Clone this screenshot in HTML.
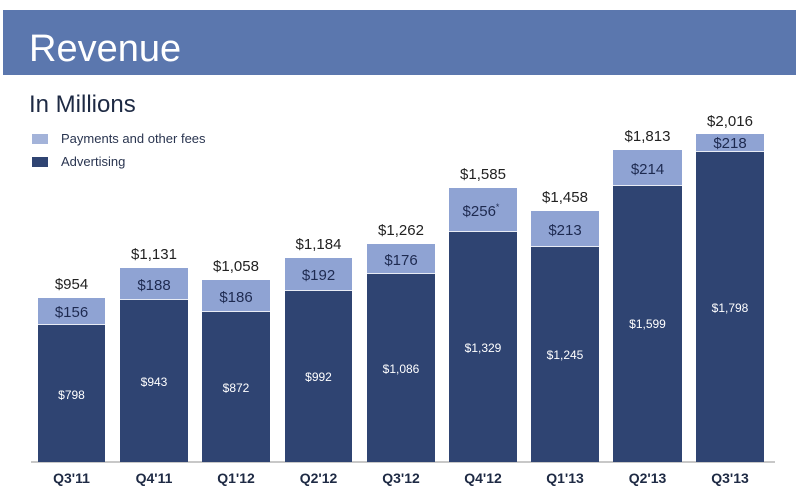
<!DOCTYPE html>
<html><head><meta charset="utf-8"><style>
body{margin:0;width:800px;height:497px;background:#fff;overflow:hidden;font-family:"Liberation Sans",sans-serif}
</style></head><body>
<svg width="800" height="497" xmlns="http://www.w3.org/2000/svg" font-family="Liberation Sans, sans-serif">
<rect x="3" y="10" width="793" height="65" fill="#5b77ae"/>
<text x="29" y="61" font-size="38" fill="#fff">Revenue</text>
<text x="29" y="112" font-size="24" fill="#1e2a44">In Millions</text>
<rect x="32" y="134" width="16" height="10" fill="#a3b3d9"/>
<text x="61" y="143" font-size="13" fill="#2a3550">Payments and other fees</text>
<rect x="32" y="157" width="16" height="10" fill="#2f4472"/>
<text x="61" y="166" font-size="13" fill="#2a3550">Advertising</text>
<line x1="31" y1="462" x2="775" y2="462" stroke="#c8c8c8" stroke-width="2"/>
<g font-size="15" text-anchor="middle">
<!-- bars: x, top, split, total, pay, adv, label -->
<g>
<rect x="38" y="298" width="67" height="164" fill="#8fa3d3"/><rect x="38" y="325" width="67" height="137" fill="#2f4472"/><line x1="38" y1="324.5" x2="105" y2="324.5" stroke="#e8ecf5"/>
<text x="71.5" y="289" fill="#222">$954</text><text x="71.5" y="317" fill="#1e2a50">$156</text><text x="71.5" y="399" fill="#fff" font-size="12">$798</text><text x="71.5" y="483" font-weight="bold" fill="#1e2a44" font-size="14">Q3'11</text>
</g>
<g>
<rect x="120" y="268" width="68" height="194" fill="#8fa3d3"/><rect x="120" y="300" width="68" height="162" fill="#2f4472"/><line x1="120" y1="299.5" x2="188" y2="299.5" stroke="#e8ecf5"/>
<text x="154" y="259" fill="#222">$1,131</text><text x="154" y="290" fill="#1e2a50">$188</text><text x="154" y="386" fill="#fff" font-size="12">$943</text><text x="154" y="483" font-weight="bold" fill="#1e2a44" font-size="14">Q4'11</text>
</g>
<g>
<rect x="202" y="280" width="68" height="182" fill="#8fa3d3"/><rect x="202" y="312" width="68" height="150" fill="#2f4472"/><line x1="202" y1="311.5" x2="270" y2="311.5" stroke="#e8ecf5"/>
<text x="236" y="271" fill="#222">$1,058</text><text x="236" y="302" fill="#1e2a50">$186</text><text x="236" y="392" fill="#fff" font-size="12">$872</text><text x="236" y="483" font-weight="bold" fill="#1e2a44" font-size="14">Q1'12</text>
</g>
<g>
<rect x="285" y="258" width="67" height="204" fill="#8fa3d3"/><rect x="285" y="291" width="67" height="171" fill="#2f4472"/><line x1="285" y1="290.5" x2="352" y2="290.5" stroke="#e8ecf5"/>
<text x="318.5" y="249" fill="#222">$1,184</text><text x="318.5" y="280" fill="#1e2a50">$192</text><text x="318.5" y="381" fill="#fff" font-size="12">$992</text><text x="318.5" y="483" font-weight="bold" fill="#1e2a44" font-size="14">Q2'12</text>
</g>
<g>
<rect x="367" y="244" width="68" height="218" fill="#8fa3d3"/><rect x="367" y="274" width="68" height="188" fill="#2f4472"/><line x1="367" y1="273.5" x2="435" y2="273.5" stroke="#e8ecf5"/>
<text x="401" y="235" fill="#222">$1,262</text><text x="401" y="265" fill="#1e2a50">$176</text><text x="401" y="373" fill="#fff" font-size="12">$1,086</text><text x="401" y="483" font-weight="bold" fill="#1e2a44" font-size="14">Q3'12</text>
</g>
<g>
<rect x="449" y="188" width="68" height="274" fill="#8fa3d3"/><rect x="449" y="232" width="68" height="230" fill="#2f4472"/><line x1="449" y1="231.5" x2="517" y2="231.5" stroke="#e8ecf5"/>
<text x="483" y="179" fill="#222">$1,585</text><text x="481" y="216" fill="#1e2a50">$256<tspan font-size="9" dy="-6">*</tspan></text><text x="483" y="352" fill="#fff" font-size="12">$1,329</text><text x="483" y="483" font-weight="bold" fill="#1e2a44" font-size="14">Q4'12</text>
</g>
<g>
<rect x="531" y="211" width="68" height="251" fill="#8fa3d3"/><rect x="531" y="247" width="68" height="215" fill="#2f4472"/><line x1="531" y1="246.5" x2="599" y2="246.5" stroke="#e8ecf5"/>
<text x="565" y="202" fill="#222">$1,458</text><text x="565" y="235" fill="#1e2a50">$213</text><text x="565" y="359" fill="#fff" font-size="12">$1,245</text><text x="565" y="483" font-weight="bold" fill="#1e2a44" font-size="14">Q1'13</text>
</g>
<g>
<rect x="613" y="150" width="69" height="312" fill="#8fa3d3"/><rect x="613" y="186" width="69" height="276" fill="#2f4472"/><line x1="613" y1="185.5" x2="682" y2="185.5" stroke="#e8ecf5"/>
<text x="647.5" y="141" fill="#222">$1,813</text><text x="647.5" y="174" fill="#1e2a50">$214</text><text x="647.5" y="328" fill="#fff" font-size="12">$1,599</text><text x="647.5" y="483" font-weight="bold" fill="#1e2a44" font-size="14">Q2'13</text>
</g>
<g>
<rect x="696" y="134" width="68" height="328" fill="#8fa3d3"/><rect x="696" y="152" width="68" height="310" fill="#2f4472"/><line x1="696" y1="151.5" x2="764" y2="151.5" stroke="#e8ecf5"/>
<text x="730" y="126" fill="#222">$2,016</text><text x="730" y="148" fill="#1e2a50">$218</text><text x="730" y="312" fill="#fff" font-size="12">$1,798</text><text x="730" y="483" font-weight="bold" fill="#1e2a44" font-size="14">Q3'13</text>
</g>
</g>
</svg>
</body></html>
